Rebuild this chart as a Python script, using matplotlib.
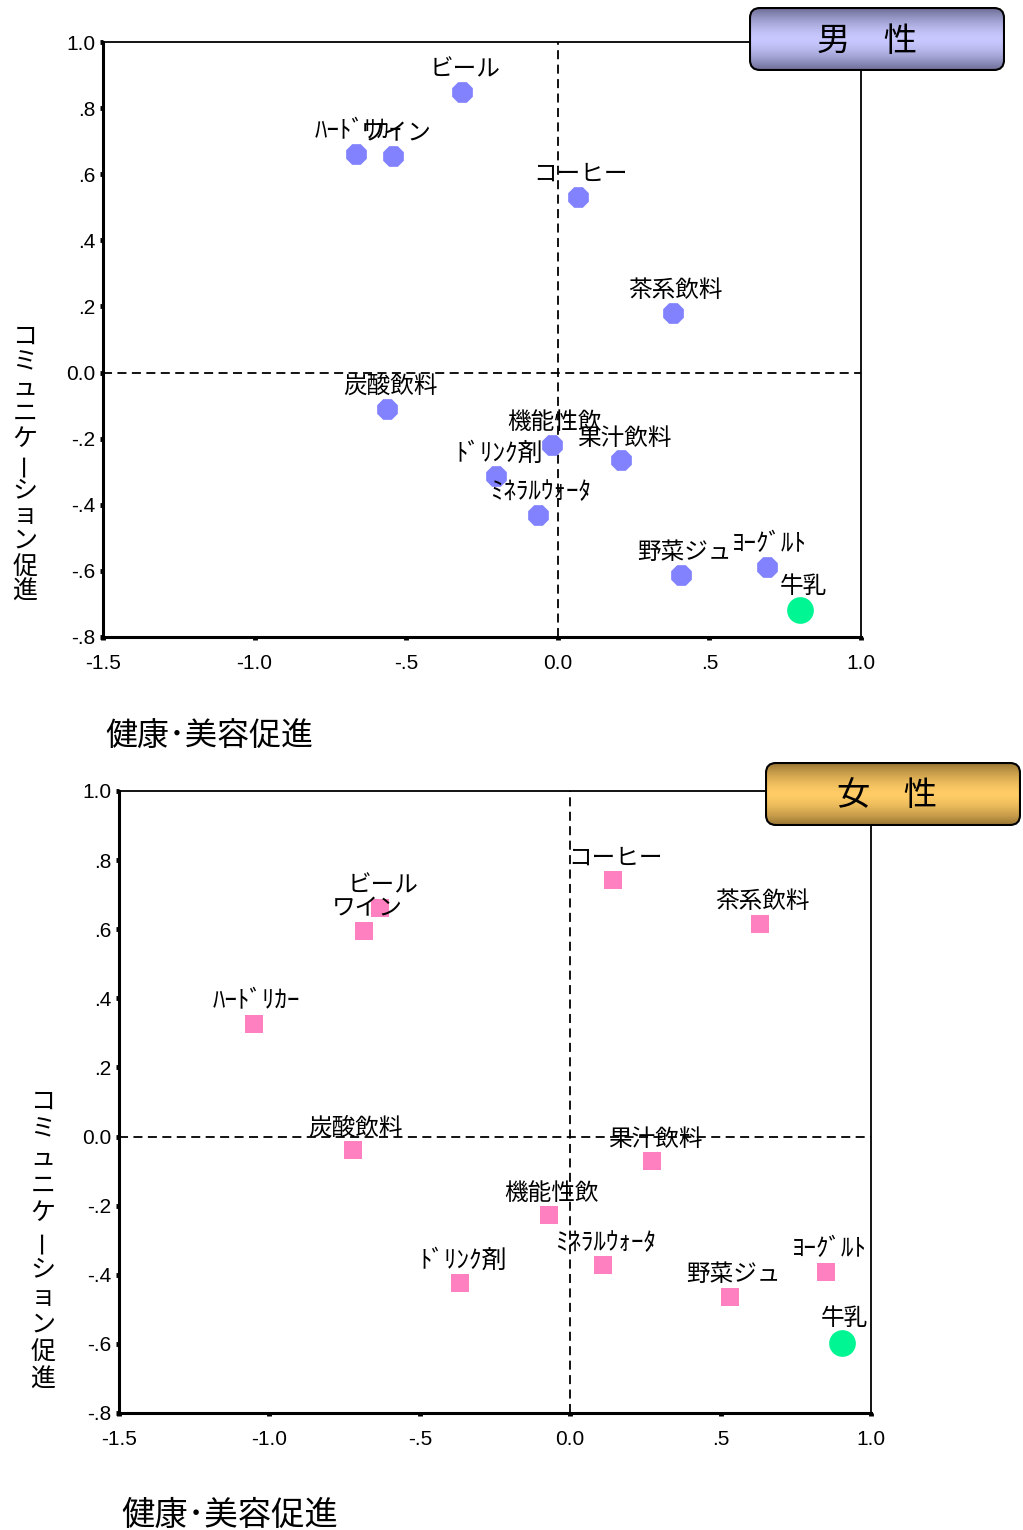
import matplotlib
matplotlib.use('Agg')
import matplotlib.pyplot as plt
import numpy as np
from matplotlib.patches import FancyBboxPatch

plt.rcParams['font.family'] = ['Noto Sans CJK JP', 'DejaVu Sans']

W, H = 1023, 1530

# 男性
m_names = ['ビール', 'ﾊｰﾄﾞﾘｶｰ', 'ワイン', 'コーヒー', '茶系飲料', '炭酸飲料',
           '機能性飲', '果汁飲料', 'ﾄﾞﾘﾝｸ剤', 'ﾐﾈﾗﾙｳｫｰﾀ', '野菜ジュ', 'ﾖｰｸﾞﾙﾄ']
m_x = [-0.315, -0.666, -0.542, 0.066, 0.379, -0.562, -0.020, 0.210, -0.203, -0.065, 0.407, 0.689]
m_y = [0.849, 0.662, 0.656, 0.532, 0.181, -0.109, -0.218, -0.266, -0.313, -0.430, -0.611, -0.587]
m_milk = [0.800, -0.718]

# 女性
f_names = ['ビール', 'ﾊｰﾄﾞﾘｶｰ', 'ワイン', 'コーヒー', '茶系飲料', '炭酸飲料',
           '機能性飲', '果汁飲料', 'ﾄﾞﾘﾝｸ剤', 'ﾐﾈﾗﾙｳｫｰﾀ', '野菜ジュ', 'ﾖｰｸﾞﾙﾄ']
f_x = [-0.633, -1.052, -0.684, 0.143, 0.631, -0.723, -0.072, 0.273, -0.366, 0.109, 0.532, 0.851]
f_y = [0.662, 0.326, 0.596, 0.742, 0.615, -0.040, -0.228, -0.072, -0.423, -0.373, -0.463, -0.391]
f_milk = [0.902, -0.596]

milk_name = '牛乳'
xticks = [-1.5, -1.0, -0.5, 0.0, 0.5, 1.0]
xticklabels = ['-1.5', '-1.0', '-.5', '0.0', '.5', '1.0']
yticks = [1.0, 0.8, 0.6, 0.4, 0.2, 0.0, -0.2, -0.4, -0.6, -0.8]
yticklabels = ['1.0', '.8', '.6', '.4', '.2', '0.0', '-.2', '-.4', '-.6', '-.8']
xlabel = '健康･美容促進'
ylabel = 'コミュニケーション促進'

fig = plt.figure(figsize=(W / 100, H / 100), dpi=100)


def px_rect(x0, y0, x1, y1):
    return [x0 / W, 1 - y1 / H, (x1 - x0) / W, (y1 - y0) / H]


def label_size(n):
    # half-width katakana labels look a bit larger in the original
    return 18 if any('\uff61' <= c <= '\uff9f' for c in n) else 17


def panel(rect, names, xs, ys, milk, marker, color, msize):
    ax = fig.add_axes(rect)
    ax.set_xlim(-1.5, 1.0)
    ax.set_ylim(-0.8, 1.0)
    ax.axhline(0, color='black', lw=1.3, ls=(0, (5, 3)), zorder=1)
    ax.axvline(0, color='black', lw=1.3, ls=(0, (5, 3)), zorder=1)
    ax.scatter(xs, ys, marker=marker, s=msize, color=color, linewidths=0, zorder=3)
    ax.scatter([milk[0]], [milk[1]], marker='o', s=370, color='#00f593', linewidths=0, zorder=3)
    for n, x, y in zip(names, xs, ys):
        ax.annotate(n, (x, y), xytext=(2, 16), textcoords='offset points',
                    ha='center', va='center', fontsize=label_size(n), zorder=4)
    ax.annotate(milk_name, milk, xytext=(2, 17), textcoords='offset points',
                ha='center', va='center', fontsize=17, zorder=4)
    ax.set_xticks(xticks)
    ax.set_xticklabels(xticklabels, fontfamily='Liberation Sans', fontsize=15)
    ax.set_yticks(yticks)
    ax.set_yticklabels(yticklabels, fontfamily='Liberation Sans', fontsize=15)
    ax.tick_params(direction='out', length=2.5, width=3.5, color='black')
    ax.tick_params(axis='x', pad=10)
    ax.tick_params(axis='y', pad=3)
    for s in ['left', 'bottom']:
        ax.spines[s].set_linewidth(2.2)
    for s in ['top', 'right']:
        ax.spines[s].set_linewidth(1.3)
    return ax


def title_box(rect, text, c_mid, c_edge, tx):
    bax = fig.add_axes(rect)
    bax.set_xlim(0, 256)
    bax.set_ylim(0, 64)
    bax.axis('off')
    t = np.linspace(0, 1, 64)
    w = (np.abs(t - 0.5) * 2) ** 1.6
    c_mid = np.array(c_mid) / 255
    c_edge = np.array(c_edge) / 255
    grad = c_mid[None, :] * (1 - w[:, None]) + c_edge[None, :] * w[:, None]
    img = np.repeat(grad[:, None, :], 2, axis=1)
    patch = FancyBboxPatch((1, 1), 254, 62, boxstyle='round,pad=0,rounding_size=10',
                           fc='none', ec='black', lw=1.5, zorder=3)
    bax.add_patch(patch)
    im = bax.imshow(img, extent=(0, 256, 0, 64), aspect='auto', origin='lower', zorder=1)
    im.set_clip_path(patch)
    bax.text(tx, 30, text, ha='center', va='center', fontsize=24, zorder=4)


def vlabel(xc, y0, y1, text):
    ys = np.linspace(y0, y1, len(text))
    for ch, yy in zip(text, ys):
        rot = 90 if ch == 'ー' else 0
        fig.text(xc / W, 1 - yy / H, ch, ha='center', va='center', fontsize=18, rotation=rot)


panel(px_rect(103, 42, 861, 637), m_names, m_x, m_y, m_milk, '8', '#8282ff', 260)
panel(px_rect(119, 791, 871, 1413), f_names, f_x, f_y, f_milk, 's', '#ff80c0', 150)

title_box(px_rect(749, 7, 1005, 71), '男　性', (200, 200, 255), (105, 105, 145), 118)
title_box(px_rect(765, 762, 1021, 826), '女　性', (255, 204, 102), (150, 115, 50), 122)

fig.text(105 / W, 1 - 737 / H, xlabel, ha='left', va='center', fontsize=23)
fig.text(121 / W, 1 - 1515 / H, xlabel, ha='left', va='center', fontsize=24)

vlabel(25, 337, 592, ylabel)
vlabel(43, 1102, 1380, ylabel)

plt.savefig('out.png', dpi=100)
